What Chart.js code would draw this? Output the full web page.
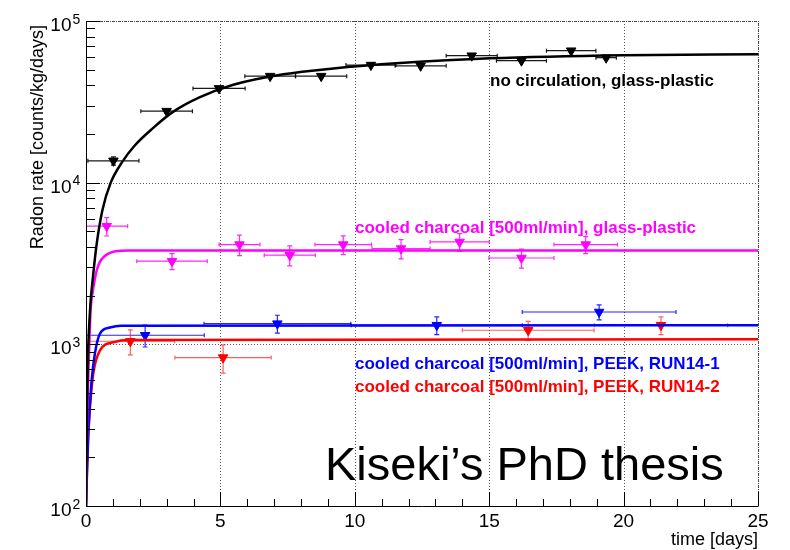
<!DOCTYPE html>
<html>
<head>
<meta charset="utf-8">
<script src="https://cdn.jsdelivr.net/npm/chart.js@4.4.1/dist/chart.umd.min.js"></script>
<style>
html,body{margin:0;padding:0;background:#fff;}
#c{display:block;}
</style>
</head>
<body>
<canvas id="c" width="790" height="550"></canvas>
<script>
// ---- tick labels ----
const xTickValues = [0, 5, 10, 15, 20, 25];
const xTickLabels = ['0', '5', '10', '15', '20', '25'];
const yTickValues = [100, 1000, 10000, 100000];
const yTickExponents = ['2', '3', '4', '5'];

// ---- no circulation, glass-plastic (black) ----
const blackX    = [1.02, 3.0, 4.95, 6.85, 8.75, 10.6, 12.45, 14.35, 16.2, 18.05, 19.35];
const blackY    = [13650, 27700, 38300, 45600, 45600, 53400, 52800, 61000, 56800, 65500, 59300];
const blackXErr = [0.95, 0.96, 0.97, 0.94, 0.95, 0.93, 0.95, 0.95, 0.93, 0.92, 0.38];
const blackYErr = [800, 700, 900, 1000, 1000, 1100, 1100, 1200, 1100, 1300, 1200];
const blackFitX = [0, 0.05, 0.15, 0.26, 0.40, 0.61, 0.92, 1.35, 1.79, 2.47, 3.25, 4.24, 5.48, 7.34, 9.2, 11.68, 15.03, 19.99, 25];
const blackFitY = [100, 560, 1620, 2610, 4210, 6760, 10000, 13450, 16800, 21600, 27500, 33800, 40300, 46800, 50900, 54900, 58800, 61500, 62200];

// ---- cooled charcoal, glass-plastic (magenta) ----
const magentaX    = [0.77, 3.2, 5.71, 7.58, 9.57, 11.72, 13.9, 16.2, 18.59];
const magentaY    = [5380, 3270, 4140, 3560, 4140, 3910, 4300, 3420, 4140];
const magentaXErr = [0.78, 1.31, 0.76, 0.95, 1.05, 1.08, 1.1, 1.21, 1.18];
const magentaYErr = [700, 370, 600, 500, 550, 530, 540, 460, 500];
const magentaFitX = [0, 0.05, 0.12, 0.17, 0.26, 0.40, 0.52, 0.67, 0.85, 1.1, 1.6, 25];
const magentaFitY = [100, 372, 962, 1620, 2160, 2870, 3250, 3480, 3650, 3760, 3800, 3810];

// ---- cooled charcoal, PEEK, RUN14-1 (blue) ----
const blueX    = [2.2, 7.12, 13.05, 19.09];
const blueY    = [1138, 1343, 1313, 1585];
const blueXErr = [2.2, 2.73, 3.18, 2.86];
const blueYErr = [175, 170, 165, 170];
const blueFitX = [0, 0.09, 0.21, 0.33, 0.52, 0.89, 1.3, 25];
const blueFitY = [100, 293, 598, 875, 1165, 1270, 1305, 1313];

// ---- cooled charcoal, PEEK, RUN14-2 (red) ----
const redX    = [1.65, 5.1, 16.45, 21.39];
const redY    = [1045, 828, 1222, 1313];
const redXErr = [1.65, 1.79, 2.45, 2.48];
const redYErr = [185, 165, 165, 165];
const redFitX = [0, 0.05, 0.15, 0.27, 0.52, 1.02, 1.6, 25];
const redFitY = [105, 210, 409, 659, 918, 1030, 1065, 1074];

const BLACK = '#000000', MAGENTA = '#ff00ff', BLUE = '#0000ff', RED = '#ff0000';
const FONT = '"Liberation Sans", Arial, Helvetica, sans-serif';

function pts(xs, ys) { return xs.map((x, i) => ({x: x, y: ys[i]})); }

const series = [
  {x: blackX, y: blackY, ex: blackXErr, ey: blackYErr, color: BLACK, bar: 'rgba(0,0,0,0.9)'},
  {x: magentaX, y: magentaY, ex: magentaXErr, ey: magentaYErr, color: MAGENTA, bar: 'rgba(255,0,255,0.85)'},
  {x: blueX, y: blueY, ex: blueXErr, ey: blueYErr, color: BLUE, bar: 'rgba(0,0,255,0.85)'},
  {x: redX, y: redY, ex: redXErr, ey: redYErr, color: RED, bar: 'rgba(255,40,40,0.75)'}
];

function fitDS(xs, ys, color) {
  return {type: 'line', data: pts(xs, ys), borderColor: color, borderWidth: 2.5,
    pointRadius: 0, fill: false, cubicInterpolationMode: 'monotone', showLine: true};
}
function markDS(s) {
  return {type: 'scatter', data: pts(s.x, s.y), pointStyle: 'triangle', rotation: 180,
    pointRadius: 5.5, pointBackgroundColor: s.color, pointBorderColor: s.color, pointBorderWidth: 1};
}

const drawPlugin = {
  id: 'rootstyle',
  beforeDatasetsDraw(chart) {
    const ctx = chart.ctx, a = chart.chartArea, xs = chart.scales.x, ys = chart.scales.y;
    ctx.save();
    // dotted grid
    ctx.strokeStyle = '#555';
    ctx.lineWidth = 1;
    ctx.setLineDash([1, 2]);
    xTickValues.forEach(v => {
      if (v === 0) return;
      const px = Math.round(xs.getPixelForValue(v)) + 0.5;
      ctx.beginPath(); ctx.moveTo(px, a.top); ctx.lineTo(px, a.bottom); ctx.stroke();
    });
    yTickValues.forEach(v => {
      if (v === 100) return;
      const py = Math.round(ys.getPixelForValue(v)) + 0.5;
      ctx.beginPath(); ctx.moveTo(a.left, py); ctx.lineTo(a.right, py); ctx.stroke();
    });
    ctx.setLineDash([]);
    // error bars
    ctx.beginPath(); ctx.rect(a.left, a.top, a.right - a.left, a.bottom - a.top); ctx.clip();
    series.forEach(s => {
      ctx.strokeStyle = s.bar;
      ctx.lineWidth = 1.2;
      s.x.forEach((x, i) => {
        const y = s.y[i];
        const px = xs.getPixelForValue(x), py = ys.getPixelForValue(y);
        const x0 = xs.getPixelForValue(x - s.ex[i]), x1 = xs.getPixelForValue(x + s.ex[i]);
        const y0 = ys.getPixelForValue(y - s.ey[i]), y1 = ys.getPixelForValue(y + s.ey[i]);
        ctx.beginPath();
        ctx.moveTo(x0, py); ctx.lineTo(x1, py);
        ctx.moveTo(x0, py - 2); ctx.lineTo(x0, py + 2);
        ctx.moveTo(x1, py - 2); ctx.lineTo(x1, py + 2);
        ctx.moveTo(px, y0); ctx.lineTo(px, y1);
        ctx.moveTo(px - 2.5, y0); ctx.lineTo(px + 2.5, y0);
        ctx.moveTo(px - 2.5, y1); ctx.lineTo(px + 2.5, y1);
        ctx.stroke();
      });
    });
    ctx.restore();
  },
  afterDatasetsDraw(chart) {
    const ctx = chart.ctx, a = chart.chartArea, xs = chart.scales.x, ys = chart.scales.y;
    ctx.save();
    // frame: top & right dotted
    ctx.strokeStyle = '#444';
    ctx.lineWidth = 1;
    ctx.setLineDash([1, 1]);
    ctx.beginPath();
    ctx.moveTo(a.left, a.top + 0.5); ctx.lineTo(a.right + 0.5, a.top + 0.5); ctx.lineTo(a.right + 0.5, a.bottom);
    ctx.stroke();
    ctx.setLineDash([]);
    // axes
    ctx.strokeStyle = '#000';
    ctx.lineWidth = 1;
    ctx.beginPath();
    ctx.moveTo(a.left + 0.5, a.top); ctx.lineTo(a.left + 0.5, a.bottom + 0.5); ctx.lineTo(a.right + 0.5, a.bottom + 0.5);
    ctx.stroke();
    // x ticks
    ctx.beginPath();
    for (let d = 0; d <= 25; d += 1) {
      const px = Math.round(xs.getPixelForValue(d)) + 0.5;
      const len = (d % 5 === 0) ? 14 : 7;
      ctx.moveTo(px, a.bottom); ctx.lineTo(px, a.bottom - len);
    }
    // y ticks (log)
    for (let e = 2; e <= 4; e++) {
      for (let m = 1; m <= 10; m++) {
        const v = m * Math.pow(10, e);
        const py = Math.round(ys.getPixelForValue(v)) + 0.5;
        const len = (m === 1 || m === 10) ? 14 : 9;
        ctx.moveTo(a.left, py); ctx.lineTo(a.left + len, py);
      }
    }
    ctx.stroke();
    // x tick labels
    ctx.fillStyle = '#000';
    ctx.font = '19px ' + FONT;
    ctx.textAlign = 'center';
    ctx.textBaseline = 'alphabetic';
    xTickValues.forEach((v, i) => {
      ctx.fillText(xTickLabels[i], xs.getPixelForValue(v), a.bottom + 21);
    });
    // y tick labels 10^n
    yTickValues.forEach((v, i) => {
      const py = ys.getPixelForValue(v);
      ctx.font = '19px ' + FONT;
      ctx.textAlign = 'right';
      ctx.fillText('10', 71.5, py + 10);
      ctx.font = '14px ' + FONT;
      ctx.textAlign = 'left';
      ctx.fillText(yTickExponents[i], 72.5, py + 2.5);
    });
    // axis titles
    ctx.font = '18px ' + FONT;
    ctx.textAlign = 'right';
    ctx.fillText('time [days]', a.right, 545);
    ctx.save();
    ctx.translate(38, 25);
    ctx.rotate(-Math.PI / 2);
    ctx.textAlign = 'right';
    ctx.textBaseline = 'middle';
    ctx.fillText('Radon rate [counts/kg/days]', 0, 0);
    ctx.restore();
    // annotations
    ctx.textAlign = 'left';
    ctx.textBaseline = 'alphabetic';
    ctx.font = 'bold 17px ' + FONT;
    ctx.fillStyle = BLACK;
    ctx.fillText('no circulation, glass-plastic', 490, 86);
    ctx.fillStyle = MAGENTA;
    ctx.fillText('cooled charcoal [500ml/min], glass-plastic', 355, 232.5);
    ctx.fillStyle = BLUE;
    ctx.fillText('cooled charcoal [500ml/min], PEEK, RUN14-1', 355, 369);
    ctx.fillStyle = RED;
    ctx.fillText('cooled charcoal [500ml/min], PEEK, RUN14-2', 355, 391.5);
    ctx.fillStyle = '#000';
    ctx.font = '47px ' + FONT;
    ctx.fillText('Kiseki\u2019s PhD thesis', 325, 480);
    ctx.restore();
  }
};

new Chart(document.getElementById('c'), {
  type: 'scatter',
  data: {
    datasets: [
      fitDS(blackFitX, blackFitY, BLACK),
      fitDS(magentaFitX, magentaFitY, MAGENTA),
      fitDS(blueFitX, blueFitY, BLUE),
      fitDS(redFitX, redFitY, RED),
      markDS(series[0]), markDS(series[1]), markDS(series[2]), markDS(series[3])
    ]
  },
  options: {
    responsive: false,
    devicePixelRatio: 1,
    animation: false,
    layout: {padding: {left: 86, right: 32, top: 21, bottom: 44}},
    plugins: {legend: {display: false}, tooltip: {enabled: false}},
    scales: {
      x: {type: 'linear', min: 0, max: 25, display: false},
      y: {type: 'logarithmic', min: 100, max: 100000, display: false}
    }
  },
  plugins: [drawPlugin]
});
</script>
</body>
</html>
